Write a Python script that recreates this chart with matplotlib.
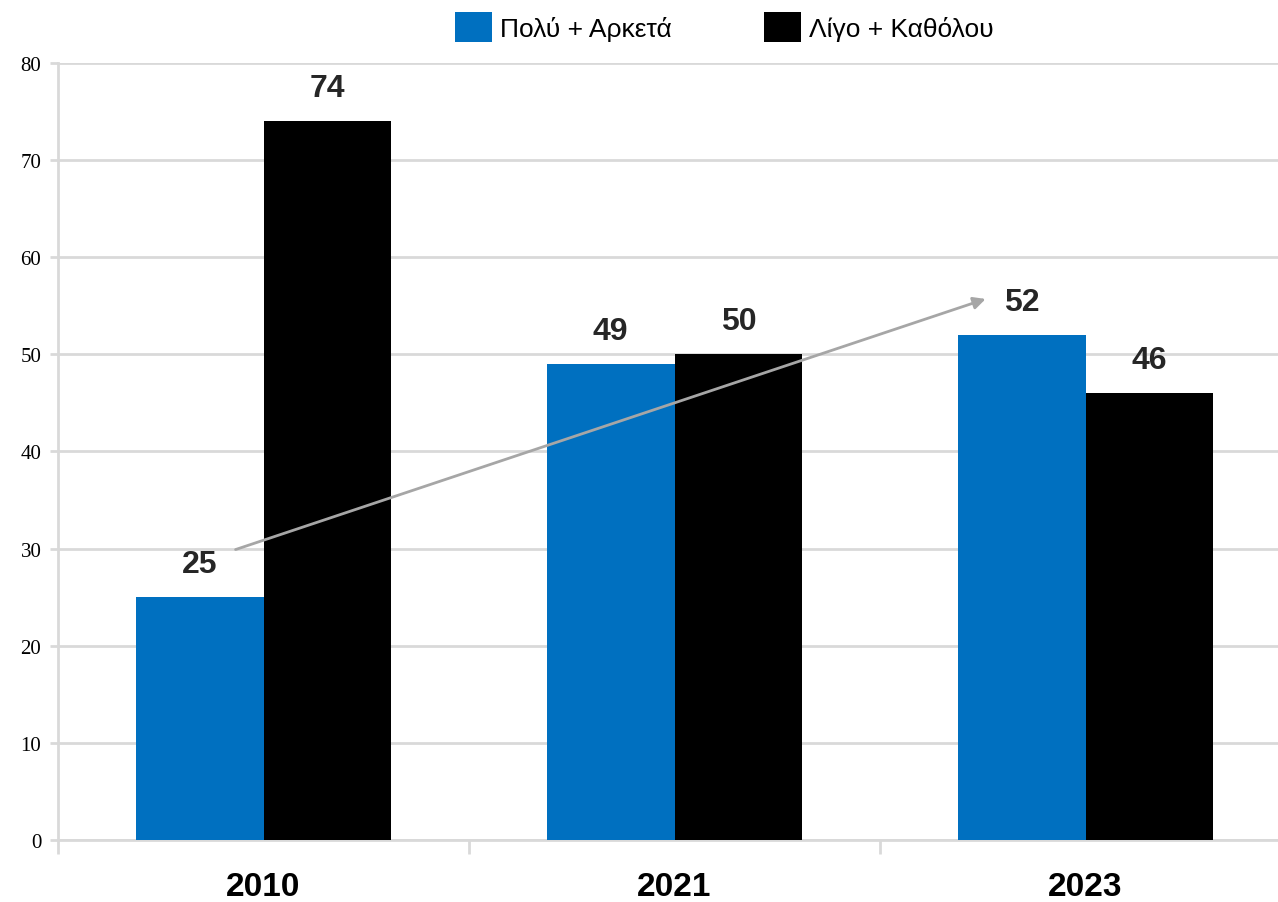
import numpy as np
import matplotlib
matplotlib.use('Agg')
import matplotlib.pyplot as plt
from matplotlib import font_manager
from matplotlib.patches import Patch

# Data
years = ['2010', '2021', '2023']
much = [25, 49, 52]
little = [74, 50, 46]
series_names = ['Πολύ + Αρκετά', 'Λίγο + Καθόλου']
yticks = [0, 10, 20, 30, 40, 50, 60, 70, 80]

# pick a narrow font if available
names = set(f.name for f in font_manager.fontManager.ttflist)
narrow = 'Liberation Sans Narrow' if 'Liberation Sans Narrow' in names else 'Liberation Sans'

blue = '#0070C0'
black = '#000000'
grid_col = '#d9d9d9'

fig = plt.figure(figsize=(12.78, 9.03), dpi=100)
ax = fig.add_axes([0.0454, 0.0687, 0.9648, 0.8605])

x = np.arange(len(years))
w = 0.311
ax.bar(x - w / 2, much, w, color=blue, zorder=3)
ax.bar(x + w / 2, little, w, color=black, zorder=3)

for xi, v in zip(x - w / 2, much):
    ax.annotate(str(v), (xi, v), xytext=(0, 13), textcoords='offset points',
                ha='center', va='bottom', fontsize=23, fontweight='bold',
                color='#262626', family=narrow)
for xi, v in zip(x + w / 2, little):
    ax.annotate(str(v), (xi, v), xytext=(0, 13), textcoords='offset points',
                ha='center', va='bottom', fontsize=23, fontweight='bold',
                color='#262626', family=narrow)

# trend arrow
ax.annotate('', xy=(1.757, 55.7), xytext=(-0.068, 29.9),
            arrowprops=dict(arrowstyle='-|>', color='#a6a6a6', lw=2,
                            mutation_scale=18, shrinkA=0, shrinkB=0), zorder=4)

ax.set_xlim(-0.5, 2.5)
ax.set_ylim(0, 80)
ax.set_yticks(yticks)
ax.set_yticklabels([str(t) for t in yticks], family='Liberation Serif', fontsize=15)
ax.yaxis.grid(True, color=grid_col, lw=2, zorder=0)
ax.set_axisbelow(True)

ax.set_xticks(x)
ax.set_xticklabels(years, fontsize=24, fontweight='bold', family=narrow)
ax.tick_params(axis='x', which='major', length=0, pad=22)
ax.set_xticks([-0.5, 0.5, 1.5], minor=True)
ax.tick_params(axis='x', which='minor', length=10, width=2, color=grid_col, direction='out')
ax.tick_params(axis='y', length=6, width=2, color=grid_col, pad=6)

for s in ['top', 'right']:
    ax.spines[s].set_visible(False)
for s in ['left', 'bottom']:
    ax.spines[s].set_color(grid_col)
    ax.spines[s].set_linewidth(2)

handles = [Patch(facecolor=blue, label=series_names[0]),
           Patch(facecolor=black, label=series_names[1])]
fig.legend(handles=handles, loc='center', bbox_to_anchor=(0.567, 0.969), ncol=2,
           frameon=False, prop={'family': narrow, 'size': 19},
           handlelength=1.4, handleheight=1.4, handletextpad=0.3, columnspacing=3.5)

fig.savefig('out.png', dpi=100)
